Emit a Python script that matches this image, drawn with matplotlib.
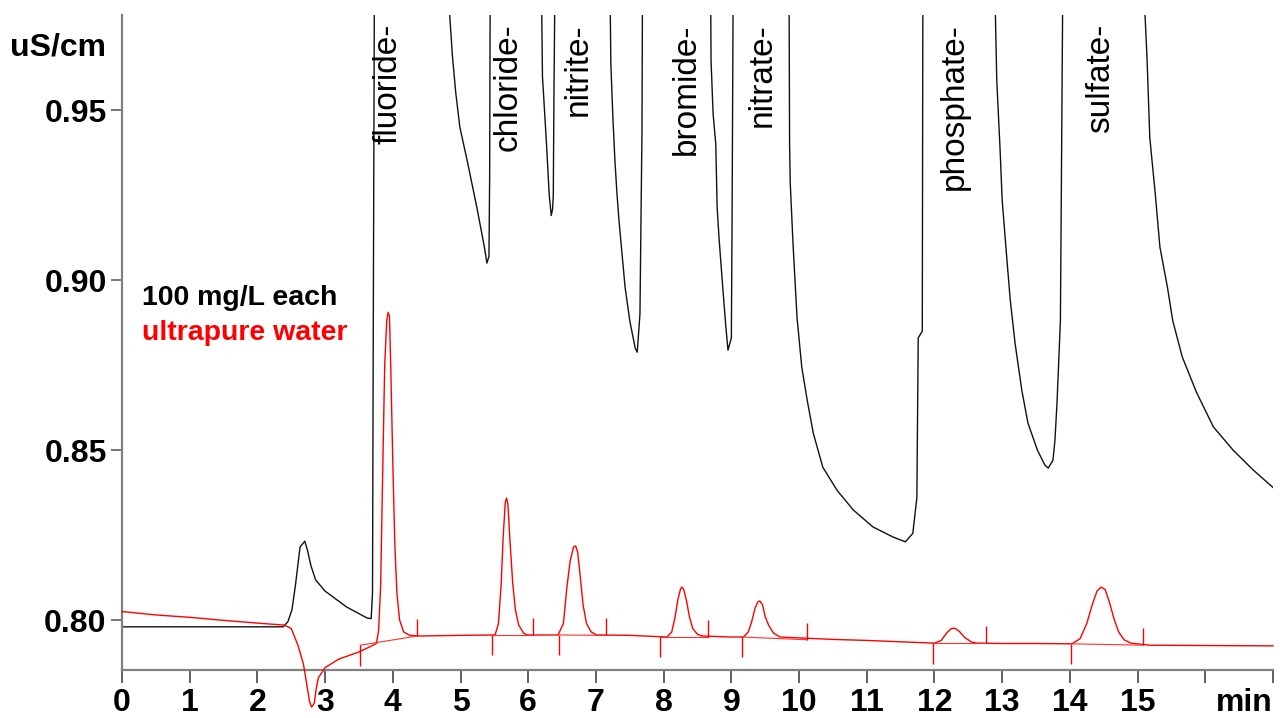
import matplotlib
matplotlib.use("Agg")
import matplotlib.pyplot as plt

plt.rcParams['font.family'] = ['Liberation Sans', 'DejaVu Sans']

# ---------------- data ----------------
# black trace: 100 mg/L each standard (values above the axis top are off-scale peaks)
black_t = [0.0, 2.38, 2.45, 2.51, 2.56, 2.63, 2.70, 2.74, 2.79, 2.86, 3.00, 3.32, 3.62, 3.68,
           3.70, 3.71, 3.73,
           4.84, 4.84, 4.88, 4.93, 4.99, 5.10, 5.24, 5.35, 5.39, 5.42, 5.43, 5.44,
           6.19, 6.20, 6.21, 6.27, 6.31, 6.34, 6.36, 6.37, 6.38, 6.40,
           7.20, 7.22, 7.25, 7.28, 7.31, 7.34, 7.43, 7.50, 7.58, 7.61, 7.65, 7.68, 7.69,
           8.69, 8.70, 8.73, 8.77, 8.79, 8.82, 8.88, 8.92, 8.95, 9.00, 9.01, 9.03,
           9.85, 9.86, 9.87, 9.91, 9.97, 10.04, 10.12, 10.21, 10.35, 10.56, 10.80, 11.09,
           11.39, 11.57, 11.68, 11.74, 11.76, 11.82, 11.83,
           12.90, 12.90, 12.92, 12.97, 13.00, 13.07, 13.12, 13.19, 13.29, 13.38, 13.52,
           13.63, 13.68, 13.75, 13.78, 13.81, 13.86, 13.90,
           15.10, 15.11, 15.14, 15.18, 15.26, 15.33, 15.44, 15.52, 15.66, 15.87, 16.12, 16.41,
           16.71, 16.96, 17.0]
black_v = [0.798, 0.798, 0.7995, 0.803, 0.810, 0.8215, 0.8232, 0.8205, 0.8160, 0.8118, 0.8085,
           0.8038, 0.8006, 0.8004,
           0.808, 0.878, 1.0,
           1.0, 0.978, 0.966, 0.955, 0.945, 0.935, 0.9215, 0.910, 0.905, 0.907, 0.930, 1.0,
           1.0, 0.978, 0.960, 0.940, 0.925, 0.919, 0.921, 0.925, 0.955, 1.0,
           1.0, 0.9638, 0.948, 0.9353, 0.9256, 0.9176, 0.898, 0.888, 0.880, 0.8788, 0.890,
           0.944, 1.0,
           1.0, 0.9647, 0.949, 0.940, 0.9215, 0.9118, 0.896, 0.886, 0.8794, 0.883, 0.9156, 1.0,
           1.0, 0.940, 0.9285, 0.911, 0.889, 0.8744, 0.8647, 0.855, 0.845, 0.8382, 0.8324,
           0.8274, 0.8244, 0.823, 0.8255, 0.836, 0.883, 0.885, 1.0,
           1.0, 0.978, 0.9588, 0.938, 0.9235, 0.906, 0.894, 0.8815, 0.8676, 0.858, 0.850,
           0.8456, 0.8447, 0.847, 0.853, 0.864, 0.888, 1.0,
           1.0, 0.978, 0.965, 0.942, 0.9256, 0.9097, 0.898, 0.888, 0.8774, 0.8670, 0.8568,
           0.850, 0.8441, 0.8397, 0.839]

# red trace: ultrapure water
red_t = [0.0, 0.5, 1.0, 1.5, 2.0, 2.4, 2.5, 2.6, 2.68, 2.73, 2.77, 2.80, 2.84, 2.87, 2.90,
         3.0, 3.2, 3.5, 3.7, 3.76, 3.79, 3.82, 3.85, 3.88, 3.91, 3.93, 3.95, 3.97, 4.0, 4.03,
         4.06, 4.10, 4.16, 4.25, 4.4, 5.0,
         5.51, 5.56, 5.60, 5.63, 5.66, 5.68, 5.70, 5.73, 5.77, 5.81, 5.86, 5.93, 5.98,
         6.44, 6.52, 6.57, 6.62, 6.67, 6.70, 6.73, 6.77, 6.81, 6.86, 6.93, 7.01, 7.5,
         8.05, 8.12, 8.17, 8.21, 8.25, 8.27, 8.30, 8.34, 8.38, 8.43, 8.50, 8.57, 9.0,
         9.18, 9.25, 9.30, 9.35, 9.39, 9.42, 9.46, 9.50, 9.55, 9.62, 9.72, 10.5, 11.0, 11.5,
         12.00, 12.10, 12.18, 12.25, 12.30, 12.37, 12.45, 12.55, 12.63, 13.0, 13.5,
         14.03, 14.15, 14.25, 14.33, 14.40, 14.46, 14.52, 14.58, 14.65, 14.72, 14.80, 14.90,
         15.18, 16.0, 17.0]
red_v = [0.8025, 0.8015, 0.8008, 0.7999, 0.7991, 0.7985, 0.7975, 0.7925, 0.787, 0.781,
         0.776, 0.7744, 0.7755, 0.780, 0.783,
         0.786, 0.7885, 0.7906, 0.7925, 0.7932, 0.797, 0.810, 0.843, 0.875, 0.888, 0.8905,
         0.8895, 0.874, 0.846, 0.822,
         0.808, 0.800, 0.7965, 0.7955, 0.7953, 0.7955,
         0.7956, 0.799, 0.8105, 0.8245, 0.8345, 0.8359, 0.834, 0.8235, 0.811, 0.803, 0.7985,
         0.7962, 0.7956,
         0.7956, 0.799, 0.8095, 0.8175, 0.8215, 0.8218, 0.820, 0.8125, 0.8045, 0.799, 0.7965,
         0.7956, 0.7955,
         0.795, 0.7965, 0.801, 0.806, 0.8092, 0.8097, 0.8088, 0.8055, 0.801, 0.7975, 0.7958,
         0.7953, 0.795,
         0.795, 0.7965, 0.7995, 0.8035, 0.8053, 0.8056, 0.8045, 0.801, 0.7985, 0.7962, 0.795,
         0.7943, 0.794, 0.7936,
         0.7932, 0.7940, 0.7962, 0.7975, 0.7976, 0.7966, 0.7948, 0.7935, 0.7932, 0.7931,
         0.7931,
         0.793, 0.7945, 0.799, 0.8045, 0.8085, 0.8097, 0.809, 0.8055, 0.8005, 0.7965, 0.7942,
         0.7932, 0.7926, 0.7925, 0.7924]

# integration marks on the red trace (peak start / peak end)
peak_start_t = [3.52, 5.47, 6.46, 7.95, 9.16, 11.98, 14.02]
peak_start_v = [0.7926, 0.7956, 0.7956, 0.7950, 0.7950, 0.7932, 0.7930]
peak_end_t = [4.36, 6.07, 7.15, 8.66, 10.12, 12.76, 15.08]
peak_end_v = [0.7953, 0.7956, 0.7955, 0.7950, 0.7942, 0.7932, 0.7926]

# peak names and label positions
peak_names = ["fluoride", "chloride", "nitrite", "bromide", "nitrate", "phosphate", "sulfate"]
label_t = [3.93, 5.70, 6.74, 8.33, 9.45, 12.30, 14.45]

x_ticks = list(range(0, 18))
x_labels = [str(i) for i in range(0, 16)] + ["", "min"]
y_ticks = [0.80, 0.85, 0.90, 0.95]
y_labels = ["0.80", "0.85", "0.90", "0.95"]

# ---------------- figure ----------------
W, H = 1280, 718
fig = plt.figure(figsize=(W / 100, H / 100), dpi=100)
ax = fig.add_axes([122 / W, 1 - 670 / H, (1273 - 122) / W, (670 - 15) / H])
ax.set_xlim(0, 17)
ax.set_ylim(0.7853, 0.978)

ax.plot(black_t, black_v, color='#111111', lw=1.0, zorder=2)
ax.plot(red_t, red_v, color='#ff0000', lw=1.0, zorder=3, clip_on=False)

for x0, y0, x1, y1 in zip(peak_start_t, peak_start_v, peak_end_t, peak_end_v):
    ax.plot([x0, x1], [y0, y1], color='#ff3030', lw=0.8, zorder=3)
ax.vlines(peak_start_t, [v - 0.0060 for v in peak_start_v], peak_start_v,
          color='#ff0000', lw=1.0, zorder=3)
ax.vlines(peak_end_t, peak_end_v, [v + 0.0050 for v in peak_end_v],
          color='#ff0000', lw=1.0, zorder=3)

for name, t in zip(peak_names, label_t):
    ax.text(t, 0.9755, name + "-", rotation=90, ha='center', va='top',
            fontsize=24, color='black', zorder=4)

ax.text(0.30, 0.8947, "100 mg/L each", color='black', fontsize=20.5,
        fontweight='bold', va='center', ha='left')
ax.text(0.30, 0.8844, "ultrapure water", color='#ff0000', fontsize=20.5,
        fontweight='bold', va='center', ha='left')

fig.text(10 / W, 1 - 48 / H, "uS/cm", fontsize=23, fontweight='bold',
         va='center', ha='left')

for s in ['top', 'right']:
    ax.spines[s].set_visible(False)
for s in ['left', 'bottom']:
    ax.spines[s].set_color('#808080')
    ax.spines[s].set_linewidth(1.6)

ax.set_xticks(x_ticks)
ax.set_xticklabels(x_labels)
ax.set_yticks(y_ticks)
ax.set_yticklabels(y_labels)
ax.tick_params(axis='x', direction='out', length=9, width=1.4, color='#606060',
               pad=4, labelsize=23)
ax.tick_params(axis='y', direction='out', length=8, width=1.2, color='#606060',
               pad=3, labelsize=23)
for lab in ax.get_xticklabels() + ax.get_yticklabels():
    lab.set_fontweight('bold')
ax.get_xticklabels()[-1].set_horizontalalignment('right')

fig.savefig("out.png", dpi=100, facecolor='white')
